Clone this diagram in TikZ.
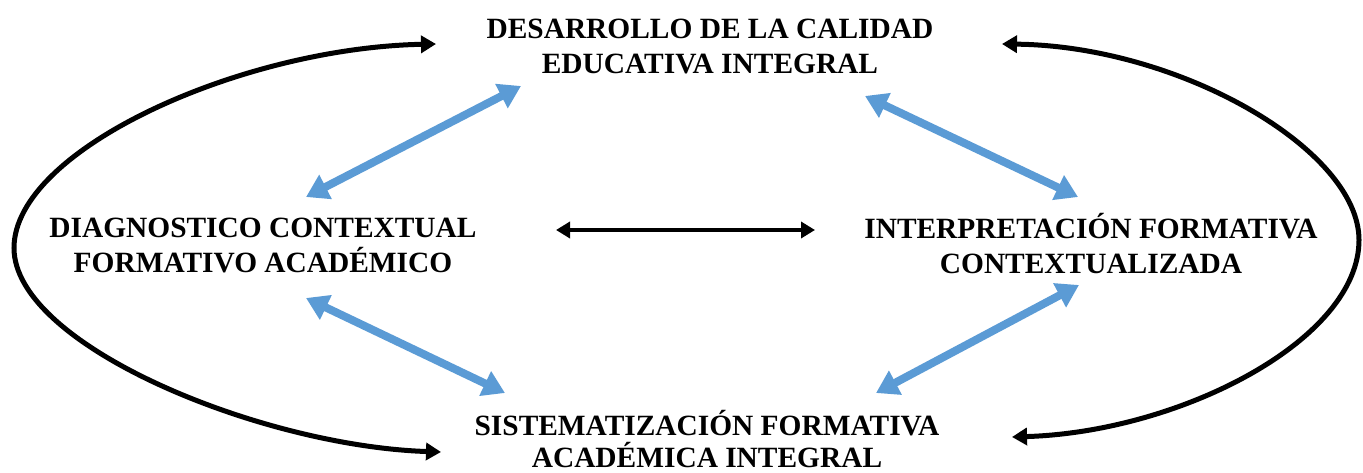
\documentclass[tikz,border=0pt]{standalone}
\usepackage{fontspec}
\setmainfont{Liberation Serif}
\usetikzlibrary{arrows.meta}
\definecolor{arrowblue}{RGB}{91,155,213}
\begin{document}
\begin{tikzpicture}[x=1pt,y=-1pt,
  label/.style={align=center,inner sep=0pt,font=\bfseries\fontsize{29.4}{35}\selectfont},
  bluearrow/.style={draw=arrowblue,line width=8pt,{Triangle[length=22pt,width=26pt]}-{Triangle[length=22pt,width=26pt]}},
  cyclearrow/.style={draw=black,line width=5pt,{Triangle[length=15pt,width=17pt]}-{Triangle[length=15pt,width=17pt]}},
  midarrow/.style={draw=black,line width=3.8pt,{Triangle[length=14pt,width=16pt]}-{Triangle[length=14pt,width=16pt]}}]
\useasboundingbox (0,0) rectangle (1363,473);
\node[label] (top) at (710,46) {DESARROLLO DE LA CALIDAD\\EDUCATIVA INTEGRAL};
\node[label] (left) at (263,245) {DIAGNOSTICO CONTEXTUAL\\FORMATIVO ACADÉMICO};
\node[label] (right) at (1091,244) {INTERPRETACIÓN FORMATIVA\\CONTEXTUALIZADA};
\node[label,font=\bfseries\fontsize{29.4}{32}\selectfont] (bottom) at (707,439) {SISTEMATIZACIÓN FORMATIVA\\ACADÉMICA INTEGRAL};
% arrow end points
\coordinate (tlA) at (521,86);
\coordinate (tlB) at (306,197);
\coordinate (trA) at (865,96);
\coordinate (trB) at (1078,197);
\coordinate (blA) at (306,298);
\coordinate (blB) at (505,393);
\coordinate (brA) at (1079,285);
\coordinate (brB) at (876,393);
\coordinate (mA) at (556,230);
\coordinate (mB) at (815,230);
\coordinate (lTop) at (436,44);
\coordinate (lMid) at (14,248);
\coordinate (lBot) at (441,452);
\coordinate (rTop) at (1002,44);
\coordinate (rMid) at (1359,240);
\coordinate (rBot) at (1012,437);
\draw[bluearrow] (tlA) -- (tlB);
\draw[bluearrow] (trA) -- (trB);
\draw[bluearrow] (blA) -- (blB);
\draw[bluearrow] (brA) -- (brB);
\draw[midarrow] (mA) -- (mB);
\draw[cyclearrow] (lTop) .. controls (240,48) and (14,150) .. (lMid) .. controls (14,345) and (260,446) .. (lBot);
\draw[cyclearrow] (rTop) .. controls (1180,46) and (1359,150) .. (rMid) .. controls (1359,340) and (1180,432) .. (rBot);
\end{tikzpicture}
\end{document}
